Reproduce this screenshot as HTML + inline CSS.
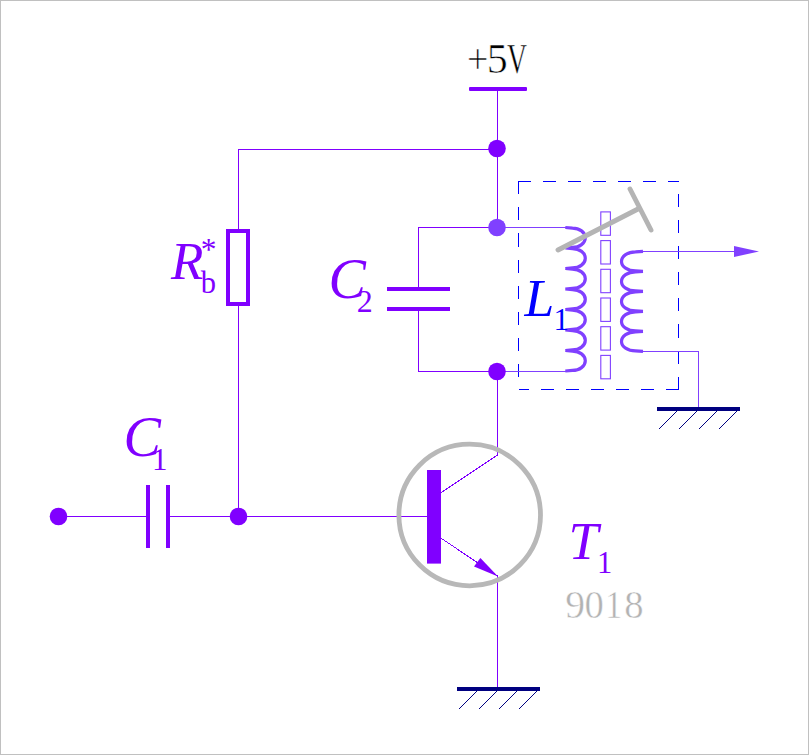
<!DOCTYPE html>
<html><head><meta charset="utf-8"><title>Circuit</title>
<style>
html,body{margin:0;padding:0;background:#fff;}
svg{display:block;}
.w{stroke:#8000ff;stroke-width:1;fill:none;shape-rendering:crispEdges;}
.d{stroke:#8000ff;stroke-width:1;fill:none;shape-rendering:crispEdges;}
.l{stroke:#8040ff;stroke-width:1;fill:none;shape-rendering:crispEdges;}
.it{font-family:"Liberation Serif",serif;font-style:italic;font-size:54px;fill:#8000ff;}
.sb{font-family:"Liberation Serif",serif;font-size:30px;fill:#8000ff;}
.ss{font-family:"Liberation Serif","Noto Serif CJK SC",serif;font-size:42px;stroke:#fff;stroke-width:0.55;}
</style></head><body>
<svg width="809" height="755" viewBox="0 0 809 755">
<rect x="0" y="0" width="809" height="755" fill="#fff"/>
<rect x="0.5" y="0.5" width="808" height="754" fill="none" stroke="#c0c0c0" stroke-width="1"/>

<!-- power -->
<text class="ss" y="73" fill="#000"><tspan x="467.05" textLength="21.38" lengthAdjust="spacingAndGlyphs">+</tspan><tspan x="486.74" textLength="21" lengthAdjust="spacingAndGlyphs">5</tspan><tspan x="506.96" textLength="19.98" lengthAdjust="spacingAndGlyphs">V</tspan></text>
<rect x="469" y="87" width="58" height="4" rx="1" fill="#8000ff"/>
<path class="w" d="M497.5 89V227.5M497.5 371.5V455"/>
<path class="w" d="M497.5 149.5H238.5V516.5"/>
<circle cx="497" cy="148.5" r="8.8" fill="#8000ff"/>

<!-- Rb -->
<rect x="228" y="231" width="20" height="73" fill="#fff" stroke="#8000ff" stroke-width="4"/>
<text class="it" x="170.9" y="279" style="font-size:53px">R</text>
<text class="sb" x="200.8" y="293" style="font-size:30.5px">b</text>
<text class="sb" x="200.7" y="260.2" style="font-size:31.5px">*</text>

<!-- C2 -->
<path class="w" d="M497.5 227.5H418.5V289M418.5 309V371.5H497.5"/>
<rect x="387" y="287" width="63" height="4" fill="#8000ff"/>
<rect x="387" y="307" width="63" height="4" fill="#8000ff"/>
<text class="it" x="328.5" y="298" style="font-size:56px">C</text>
<text class="sb" x="356.8" y="311.9" style="font-size:32px">2</text>

<!-- dashed box -->
<g stroke="#0000ff" stroke-width="1" fill="none" shape-rendering="crispEdges">
<path d="M518.2 181.5H678.5" stroke-dasharray="12.3 12.7"/>
<path d="M678.5 389.5H518.5" stroke-dasharray="12.3 12.7"/>
<path d="M518.5 181.2V389.5" stroke-dasharray="13.1 13"/>
<path d="M678.5 389.7V181.5" stroke-dasharray="13.1 13"/>
</g>

<!-- coil wires -->
<path class="l" d="M497.5 227.5H568M497.5 371.5H568"/>
<circle cx="497" cy="227.5" r="8.8" fill="#8040ff"/>
<circle cx="497" cy="371.5" r="8.8" fill="#8000ff"/>
<path d="M565.3 227.50L572.5 228.05A12.80 9.7 0 0 1 572.5 247.45L565.3 248.00M565.3 248.00L572.5 248.55A12.80 9.7 0 0 1 572.5 267.95L565.3 268.50M565.3 268.50L572.5 269.05A12.80 9.7 0 0 1 572.5 288.45L565.3 289.00M565.3 289.00L572.5 289.55A12.80 9.7 0 0 1 572.5 308.95L565.3 309.50M565.3 309.50L572.5 310.05A12.80 9.7 0 0 1 572.5 329.45L565.3 330.00M565.3 330.00L572.5 330.55A12.80 9.7 0 0 1 572.5 349.95L565.3 350.50M565.3 350.50L572.5 351.05A12.80 9.7 0 0 1 572.5 370.45L565.3 371.00" fill="none" stroke="#8040ff" stroke-width="3.2" stroke-linejoin="round"/>
<path d="M643 251.40L635.5 251.90A14.00 9.5 0 0 0 635.5 270.90L643 271.40M643 271.40L635.5 271.90A14.00 9.5 0 0 0 635.5 290.90L643 291.40M643 291.40L635.5 291.90A14.00 9.5 0 0 0 635.5 310.90L643 311.40M643 311.40L635.5 311.90A14.00 9.5 0 0 0 635.5 330.90L643 331.40M643 331.40L635.5 331.90A14.00 9.5 0 0 0 635.5 350.90L643 351.40" fill="none" stroke="#8040ff" stroke-width="3.2" stroke-linejoin="round"/>
<!-- core -->
<g fill="#fff" stroke="#8040ff" stroke-width="1.1">
<rect x="600.8" y="211.9" width="9.6" height="23.4"/>
<rect x="600.8" y="240.6" width="9.6" height="23.4"/>
<rect x="600.8" y="269.3" width="9.6" height="23.4"/>
<rect x="600.8" y="298.0" width="9.6" height="23.4"/>
<rect x="600.8" y="326.7" width="9.6" height="23.4"/>
<rect x="600.8" y="355.4" width="9.6" height="23.4"/>
</g>
<!-- tuning -->
<line x1="558" y1="250" x2="638" y2="209" stroke="#b4b4b4" stroke-width="4.9" stroke-linecap="round"/>
<line x1="630" y1="189" x2="651" y2="230" stroke="#b4b4b4" stroke-width="4.9" stroke-linecap="round"/>
<text class="it" x="524.5" y="316" style="fill:#0000ff;font-size:53.5px">L</text>
<text class="sb" x="553.5" y="329.8" style="fill:#0000ff;font-size:31px">1</text>

<!-- output -->
<path class="l" d="M641 251.5H740"/>
<path d="M734 246L759 251.5L734 257Z" fill="#8040ff"/>
<path class="l" d="M641 351.5H698.5V408"/>
<rect x="657" y="407" width="83" height="4" fill="#000080"/>
<path d="M677 411L659 429M697 411L679 429M717 411L699 429M737 411L719 429" stroke="#000080" stroke-width="1" fill="none" shape-rendering="crispEdges"/>

<!-- C1 -->
<path class="w" d="M58 516.5H148M168 516.5H427"/>
<rect x="146" y="485" width="4" height="63" fill="#8000ff"/>
<rect x="166" y="485" width="4" height="63" fill="#8000ff"/>
<circle cx="58.5" cy="516.5" r="8.8" fill="#8000ff"/>
<circle cx="238.5" cy="516.5" r="8.8" fill="#8000ff"/>
<text class="it" x="123.5" y="455.7" style="font-size:56px">C</text>
<text class="sb" x="151.9" y="469.8" style="font-size:31px">1</text>

<!-- transistor -->
<rect x="427" y="470" width="14" height="93.6" fill="#8000ff"/>
<path class="d" d="M441 492.6L497.5 455M441 538.2L497.5 576"/>
<path class="w" d="M497.5 576V688"/>
<path d="M498 576.5L480.4 558L474 566.5Z" fill="#8000ff"/>
<circle cx="469.7" cy="515" r="70.8" fill="none" stroke="#b8b8b8" stroke-width="4.8"/>
<rect x="457" y="687" width="83" height="4" fill="#000080"/>
<path d="M477 691L459 709M497 691L479 709M517 691L499 709M537 691L519 709" stroke="#000080" stroke-width="1" fill="none" shape-rendering="crispEdges"/>
<text class="it" x="568.4" y="559" style="font-size:53.5px">T</text>
<text class="sb" x="596.9" y="572.7" style="font-size:30.5px">1</text>
<text class="ss" y="617.7" fill="#b2b2b2" style="font-size:41px;stroke-width:0.5"><tspan x="565.29" textLength="19.8" lengthAdjust="spacingAndGlyphs">9</tspan><tspan x="584.39" textLength="19.33" lengthAdjust="spacingAndGlyphs">0</tspan><tspan x="605.2" textLength="16.97" lengthAdjust="spacingAndGlyphs">1</tspan><tspan x="624.19" textLength="19.33" lengthAdjust="spacingAndGlyphs">8</tspan></text>
</svg>
</body></html>
